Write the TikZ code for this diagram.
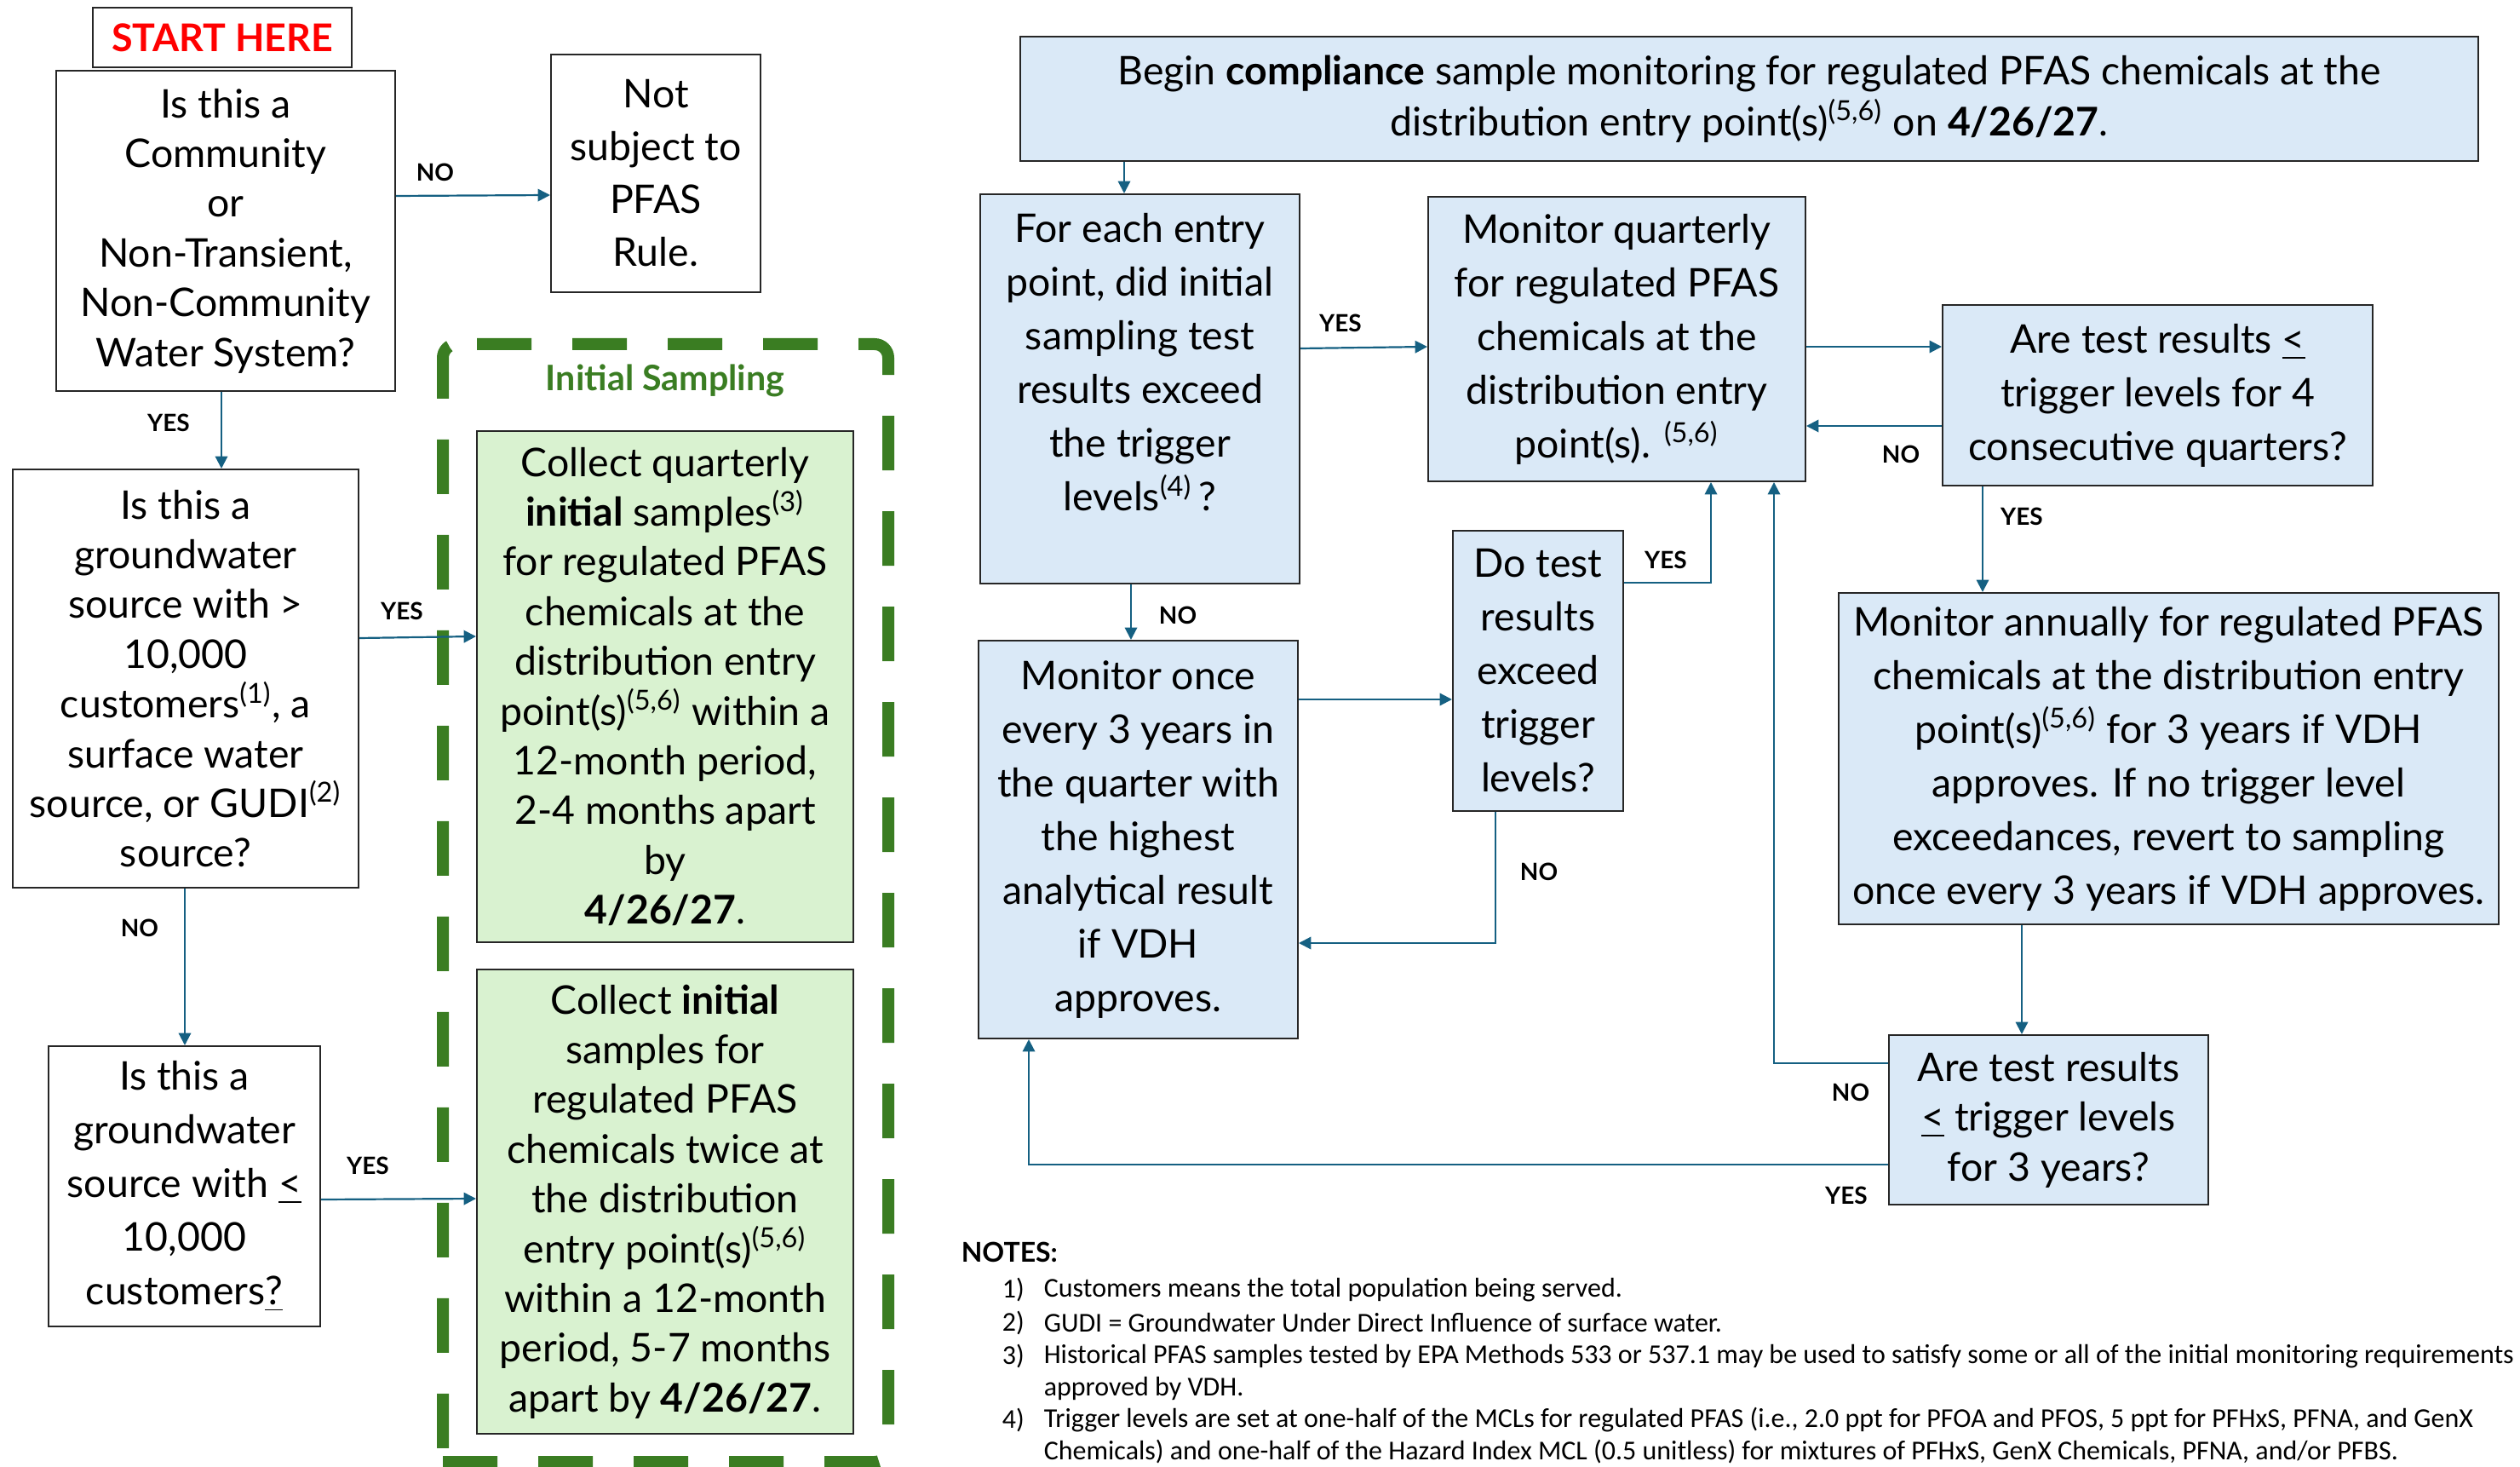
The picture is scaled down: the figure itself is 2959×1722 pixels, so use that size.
\documentclass[tikz,border=0pt]{standalone}
\usepackage{fontspec}
\setmainfont{Lato}
\newfontfamily\notefont{Carlito}
\usetikzlibrary{arrows.meta,calc}
\definecolor{boxblue}{HTML}{DAE9F7}
\definecolor{boxgreen}{HTML}{D9F2D0}
\definecolor{dgreen}{HTML}{3A7D22}
\definecolor{arrowc}{HTML}{156082}
\begin{document}
\begin{tikzpicture}[x=0.25pt,y=-0.25pt,
  box/.style={draw=black!85, line width=0.5pt, inner sep=0pt, align=center},
  ftA/.style={font=\fontsize{11.6}{14.6}\selectfont},
  ftB/.style={font=\fontsize{11.6}{15.75}\selectfont},
  bluebox/.style={box, fill=boxblue},
  greenbox/.style={box, fill=boxgreen},
  arr/.style={draw=arrowc, line width=0.55pt, -{Triangle[length=3.6pt,width=3.6pt]}},
  lbl/.style={font=\bfseries\fontsize{7}{8}\selectfont, inner sep=0pt},
  note/.style={font=\notefont\fontsize{8}{9.9}\selectfont, anchor=west, inner sep=0pt},
  gdash/.style={dgreen, line width=3.5pt, dash pattern=on 16pt off 12pt, rounded corners=4pt}
]
\useasboundingbox (0,0) rectangle (2959,1722);

% ---------- left column ----------
\node[box, minimum width=76pt, minimum height=17.5pt, text=red, font=\bfseries\fontsize{11.2}{12}\selectfont] (start) at (261,44) {START HERE};

\node[box, ftA, minimum width=99.5pt, minimum height=94pt] (a) at (265,271)
  {Is this a\\Community\\or\\Non-Transient,\\Non-Community\\Water System?};

\node[box, font=\fontsize{11.6}{15.5}\selectfont, minimum width=61.5pt, minimum height=69.75pt] (b) at (770,203.5)
  {Not\\subject to\\PFAS\\Rule.};

\node[box, ftA, minimum width=101.5pt, minimum height=122.75pt] (c) at (218,796.5)
  {Is this a\\groundwater\\source with >\\10,000\\customers\textsuperscript{(1)}, a\\surface water\\source, or GUDI\textsuperscript{(2)}\\source?};

\node[box, ftB, minimum width=79.75pt, minimum height=82.25pt] (e) at (216.5,1392.5)
  {Is this a\\groundwater\\source with \underline{<}\\10,000\\customers\underline{?}};

% initial sampling frame
\draw[gdash, dash phase=19.75pt] (560,404) -- (520,404) -- (520,1716);
\draw[gdash] (520,1716) -- (1043,1716) -- (1043,404) -- (560,404);
\node[font=\bfseries\fontsize{10.3}{12}\selectfont, text=dgreen] (initlbl) at (781,447) {Initial Sampling};

\node[greenbox, ftA, minimum width=110.5pt, minimum height=150pt] (d) at (781,806)
  {Collect quarterly\\\textbf{initial} samples\textsuperscript{(3)}\\for regulated PFAS\\chemicals at the\\distribution entry\\point(s)\textsuperscript{(5,6)} within a\\12-month period,\\2-4 months apart\\by\\\textbf{4/26/27}.};

\node[greenbox, ftA, minimum width=110.5pt, minimum height=136.25pt] (f) at (781,1410.5)
  {Collect \textbf{initial}\\samples for\\regulated PFAS\\chemicals twice at\\the distribution\\entry point(s)\textsuperscript{(5,6)}\\within a 12-month\\period, 5-7 months\\apart by \textbf{4/26/27}.};

% ---------- right part ----------
\node[bluebox, font=\fontsize{11.6}{15}\selectfont, minimum width=428pt, minimum height=36.5pt] (g) at (2054,116)
  {Begin \textbf{compliance} sample monitoring for regulated PFAS chemicals at the\\distribution entry point(s)\textsuperscript{(5,6)} on \textbf{4/26/27}.};

\node[bluebox, ftB, minimum width=93.75pt, minimum height=114.25pt] (h) at (1338.5,456.5)
  {For each entry\\point, did initial\\sampling test\\results exceed\\the trigger\\levels\textsuperscript{(4)}\,?\\ \mbox{}};

\node[bluebox, ftB, minimum width=110.75pt, minimum height=83.5pt] (i) at (1898.5,398)
  {Monitor quarterly\\for regulated PFAS\\chemicals at the\\distribution entry\\point(s). \textsuperscript{(5,6)}};

\node[bluebox, ftB, minimum width=126.25pt, minimum height=53pt] (j) at (2533.5,464)
  {Are test results \underline{<}\\trigger levels for 4\\consecutive quarters?};

\node[bluebox, ftB, minimum width=193.75pt, minimum height=97.25pt] (k) at (2546.5,890.5)
  {Monitor annually for regulated PFAS\\chemicals at the distribution entry\\point(s)\textsuperscript{(5,6)} for 3 years if VDH\\approves. If no trigger level\\exceedances, revert to sampling\\once every 3 years if VDH approves.};

\node[bluebox, ftB, minimum width=50pt, minimum height=82.25pt] (l) at (1806,787.5)
  {Do test\\results\\exceed\\trigger\\levels?};

\node[bluebox, ftB, minimum width=93.75pt, minimum height=116.75pt] (m) at (1336.5,985.5)
  {Monitor once\\every 3 years in\\the quarter with\\the highest\\analytical result\\if VDH\\approves.};

\node[bluebox, ftA, minimum width=93.75pt, minimum height=49.75pt] (n) at (2405.5,1314.5)
  {Are test results\\\underline{<} trigger levels\\for 3 years?};

% ---------- connectors ----------
\draw[arr] (a.east |- 0,230) -- (b.west |- 0,229);
\draw[arr] (260,0 |- a.south) -- (260,0 |- c.north);
\draw[arr] (c.east |- 0,749) -- (d.west |- 0,747);
\draw[arr] (217,0 |- c.south) -- (217,0 |- e.north);
\draw[arr] (e.east |- 0,1408) -- (f.west |- 0,1407);

\draw[arr] (1320,0 |- g.south) -- (1320,0 |- h.north);
\draw[arr] (h.east |- 0,409) -- (i.west |- 0,407);
\draw[arr] (i.east |- 0,407) -- (j.west |- 0,407);
\draw[arr] (j.west |- 0,500) -- (i.east |- 0,500);
\draw[arr] (2328,0 |- j.south) -- (2328,0 |- k.north);
\draw[arr] (1328,0 |- h.south) -- (1328,0 |- m.north);
\draw[arr] (m.east |- 0,821) -- (l.west |- 0,821);
\draw[arr] (l.east |- 0,684) -- (2009,684) -- (2009,0 |- i.south);
\draw[arr] (1756,0 |- l.south) -- (1756,1107) -- (m.east |- 0,1107);
\draw[arr] (2374,0 |- k.south) -- (2374,0 |- n.north);
\draw[arr] (n.west |- 0,1248) -- (2083,1248) -- (2083,0 |- i.south);
\draw[arr] (n.west |- 0,1367) -- (1208,1367) -- (1208,0 |- m.south);

% ---------- connector labels ----------
\node[lbl] (l1) at (511,202) {NO};
\node[lbl] (l2) at (198,496) {YES};
\node[lbl] (l3) at (472,717) {YES};
\node[lbl] (l4) at (164,1089) {NO};
\node[lbl] (l5) at (432,1368) {YES};
\node[lbl] (l6) at (1574,379) {YES};
\node[lbl] (l7) at (2232,533) {NO};
\node[lbl] (l8) at (2374,606) {YES};
\node[lbl] (l9) at (1383,722) {NO};
\node[lbl] (l10) at (1956,657) {YES};
\node[lbl] (l11) at (1807,1023) {NO};
\node[lbl] (l12) at (2173,1282) {NO};
\node[lbl] (l13) at (2168,1403) {YES};

% ---------- notes ----------
\node[anchor=west, inner sep=0pt, font=\bfseries\fontsize{8}{9}\selectfont] (notes) at (1128,1470) {NOTES:};
\node[note] (n1) at (1176,1514) {1)};
\node[note] (t1) at (1225,1514) {Customers means the total population being served.};
\node[note] (n2) at (1176,1553) {2)};
\node[note] (t2) at (1225,1553) {GUDI = Groundwater Under Direct Influence of surface water.};
\node[note] (n3) at (1176,1592) {3)};
\node[note] (t3) at (1225,1592) {Historical PFAS samples tested by EPA Methods 533 or 537.1 may be used to satisfy some or all of the initial monitoring requirements};
\node[note] (t3b) at (1225,1630) {approved by VDH.};
\node[note] (n4) at (1176,1667) {4)};
\node[note] (t4) at (1225,1667) {Trigger levels are set at one-half of the MCLs for regulated PFAS (i.e., 2.0 ppt for PFOA and PFOS, 5 ppt for PFHxS, PFNA, and GenX};
\node[note] (t4b) at (1225,1704) {Chemicals) and one-half of the Hazard Index MCL (0.5 unitless) for mixtures of PFHxS, GenX Chemicals, PFNA, and/or PFBS.};
\end{tikzpicture}
\end{document}
